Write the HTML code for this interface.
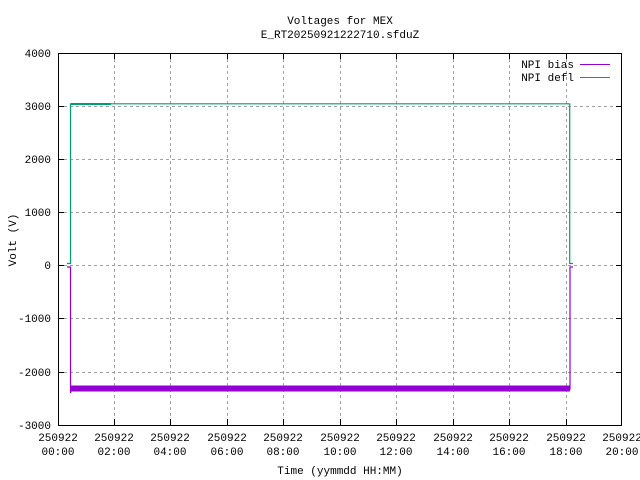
<!DOCTYPE html>
<html><head><style>body{margin:0;background:#fff}svg{display:block}text{font-family:"Liberation Mono","DejaVu Sans Mono",monospace;font-size:11px;fill:#000}</style></head><body>
<svg width="640" height="480" xmlns="http://www.w3.org/2000/svg">
<rect width="640" height="480" fill="#fff"/>
<g stroke="#a0a0a0" stroke-dasharray="3,3" stroke-width="1">
<line x1="58" y1="106.5" x2="622" y2="106.5"/><line x1="58" y1="159.5" x2="622" y2="159.5"/><line x1="58" y1="212.5" x2="622" y2="212.5"/><line x1="58" y1="265.5" x2="622" y2="265.5"/><line x1="58" y1="318.5" x2="622" y2="318.5"/><line x1="58" y1="372.5" x2="622" y2="372.5"/>
<line x1="114.5" y1="53" x2="114.5" y2="425"/><line x1="170.5" y1="53" x2="170.5" y2="425"/><line x1="227.5" y1="53" x2="227.5" y2="425"/><line x1="283.5" y1="53" x2="283.5" y2="425"/><line x1="340.5" y1="53" x2="340.5" y2="425"/><line x1="396.5" y1="53" x2="396.5" y2="425"/><line x1="453.5" y1="53" x2="453.5" y2="425"/><line x1="509.5" y1="53" x2="509.5" y2="425"/><line x1="566.5" y1="53" x2="566.5" y2="425"/>
</g>
<rect x="58.5" y="53.5" width="563" height="372" fill="none" stroke="#000"/>
<g stroke="#000">
<line x1="58" y1="106.5" x2="64" y2="106.5"/><line x1="58" y1="159.5" x2="64" y2="159.5"/><line x1="58" y1="212.5" x2="64" y2="212.5"/><line x1="58" y1="265.5" x2="64" y2="265.5"/><line x1="58" y1="318.5" x2="64" y2="318.5"/><line x1="58" y1="372.5" x2="64" y2="372.5"/>
<line x1="616" y1="106.5" x2="622" y2="106.5"/><line x1="616" y1="159.5" x2="622" y2="159.5"/><line x1="616" y1="212.5" x2="622" y2="212.5"/><line x1="616" y1="265.5" x2="622" y2="265.5"/><line x1="616" y1="318.5" x2="622" y2="318.5"/><line x1="616" y1="372.5" x2="622" y2="372.5"/>
<line x1="114.5" y1="425" x2="114.5" y2="419"/><line x1="170.5" y1="425" x2="170.5" y2="419"/><line x1="227.5" y1="425" x2="227.5" y2="419"/><line x1="283.5" y1="425" x2="283.5" y2="419"/><line x1="340.5" y1="425" x2="340.5" y2="419"/><line x1="396.5" y1="425" x2="396.5" y2="419"/><line x1="453.5" y1="425" x2="453.5" y2="419"/><line x1="509.5" y1="425" x2="509.5" y2="419"/><line x1="566.5" y1="425" x2="566.5" y2="419"/>
<line x1="114.5" y1="53" x2="114.5" y2="59"/><line x1="170.5" y1="53" x2="170.5" y2="59"/><line x1="227.5" y1="53" x2="227.5" y2="59"/><line x1="283.5" y1="53" x2="283.5" y2="59"/><line x1="340.5" y1="53" x2="340.5" y2="59"/><line x1="396.5" y1="53" x2="396.5" y2="59"/><line x1="453.5" y1="53" x2="453.5" y2="59"/><line x1="509.5" y1="53" x2="509.5" y2="59"/><line x1="566.5" y1="53" x2="566.5" y2="59"/>
</g>
<g text-anchor="end">
<text x="51" y="57">4000</text><text x="51" y="110">3000</text><text x="51" y="163">2000</text><text x="51" y="216">1000</text><text x="51" y="269">0</text><text x="51" y="322">-1000</text><text x="51" y="376">-2000</text><text x="51" y="429">-3000</text>
</g>
<g text-anchor="middle">
<text x="58" y="441">250922</text><text x="58" y="455">00:00</text>
<text x="114" y="441">250922</text><text x="114" y="455">02:00</text>
<text x="170" y="441">250922</text><text x="170" y="455">04:00</text>
<text x="227" y="441">250922</text><text x="227" y="455">06:00</text>
<text x="283" y="441">250922</text><text x="283" y="455">08:00</text>
<text x="340" y="441">250922</text><text x="340" y="455">10:00</text>
<text x="396" y="441">250922</text><text x="396" y="455">12:00</text>
<text x="453" y="441">250922</text><text x="453" y="455">14:00</text>
<text x="509" y="441">250922</text><text x="509" y="455">16:00</text>
<text x="566" y="441">250922</text><text x="566" y="455">18:00</text>
<text x="622" y="441">250922</text><text x="622" y="455">20:00</text>
<text x="340" y="474">Time (yymmdd HH:MM)</text>
<text x="340" y="24">Voltages for MEX</text>
<text x="340" y="38">E_RT20250921222710.sfduZ</text>
<text transform="translate(16,240) rotate(-90)">Volt (V)</text>
</g>
<text x="574" y="68" text-anchor="end">NPI bias</text>
<text x="574" y="81" text-anchor="end">NPI defl</text>
<line x1="580" y1="64.5" x2="610" y2="64.5" stroke="#9400d3"/>
<line x1="580" y1="77.5" x2="610" y2="77.5" stroke="#009e73"/>
<polyline fill="none" stroke="#9400d3" stroke-width="1.2" points="67,267 70.5,267 70.5,393 71,389 569,389 570,389 570,267 573,267"/>
<rect x="71" y="385.5" width="499" height="6" fill="#9400d3"/>
<polyline fill="none" stroke="#009e73" stroke-width="1.2" points="67,263.5 70.5,263.5 70.5,103.8 569.7,103.8 569.7,263.5 573,263.5"/>
<rect x="71" y="103" width="40" height="2" fill="#009e73"/>
</svg>
</body></html>
